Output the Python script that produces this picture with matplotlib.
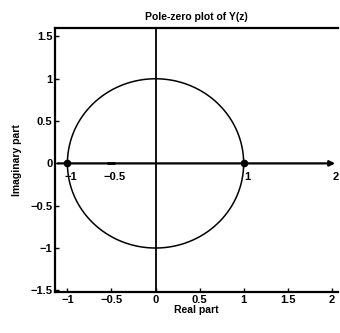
import matplotlib
matplotlib.use('Agg')
import matplotlib.pyplot as plt
import numpy as np

plt.rcParams['font.family'] = ['Liberation Sans', 'DejaVu Sans']
plt.rcParams['font.weight'] = 'bold'

# pole / zero locations
points_re = [-1, 1]
points_im = [0, 0]

xticks = [-1, -0.5, 0, 0.5, 1, 1.5, 2]
xtick_labels = ['\u22121', '\u22120.5', '0', '0.5', '1', '1.5', '2']
yticks = [-1.5, -1, -0.5, 0, 0.5, 1, 1.5]
ytick_labels = ['\u22121.5', '\u22121', '\u22120.5', '0', '0.5', '1', '1.5']

# labels drawn along the inner real axis
axis_marks = [-1, -0.5, 1, 2]
axis_mark_labels = ['\u22121', '\u22120.5', '1', '2']

fig = plt.figure(figsize=(3.4, 3.33), dpi=100)
ax = fig.add_axes([0.162, 0.123, 0.832, 0.793])

theta = np.linspace(0, 2 * np.pi, 400)
ax.plot(np.cos(theta), np.sin(theta), color='black', lw=1.1)

# inner axes
ax.annotate('', xy=(2.07, 0), xytext=(-1.14, 0),
            arrowprops=dict(arrowstyle='-|>', color='black', lw=1.6,
                            mutation_scale=8))
ax.axvline(0, color='black', lw=1.3)
ax.plot(points_re, points_im, 'o', color='black', ms=4.5)
ax.plot([-0.5], [0], marker='_', color='black', ms=6, mew=2)

for xm, lab in zip(axis_marks, axis_mark_labels):
    ax.text(xm + 0.04, -0.1, lab, ha='center', va='top', fontsize=8,
            fontweight='bold')

ax.set_xlim(-1.14, 2.07)
ax.set_ylim(-1.52, 1.6)
ax.set_xticks(xticks)
ax.set_xticklabels(xtick_labels)
ax.set_yticks(yticks)
ax.set_yticklabels(ytick_labels)
ax.tick_params(direction='in', length=3, width=1, labelsize=8, pad=2)
for lab in ax.get_xticklabels() + ax.get_yticklabels():
    lab.set_fontweight('bold')
for s in ['left', 'bottom', 'top']:
    ax.spines[s].set_linewidth(1.6)
ax.spines['right'].set_visible(False)

ax.set_title('Pole-zero plot of Y(z)', fontsize=7.5, fontweight='bold', pad=6)
ax.set_xlabel('Real part', fontsize=7.5, fontweight='bold', labelpad=0)
ax.set_ylabel('Imaginary part', fontsize=7.5, fontweight='bold', labelpad=6)

fig.savefig('out.png', dpi=100)
